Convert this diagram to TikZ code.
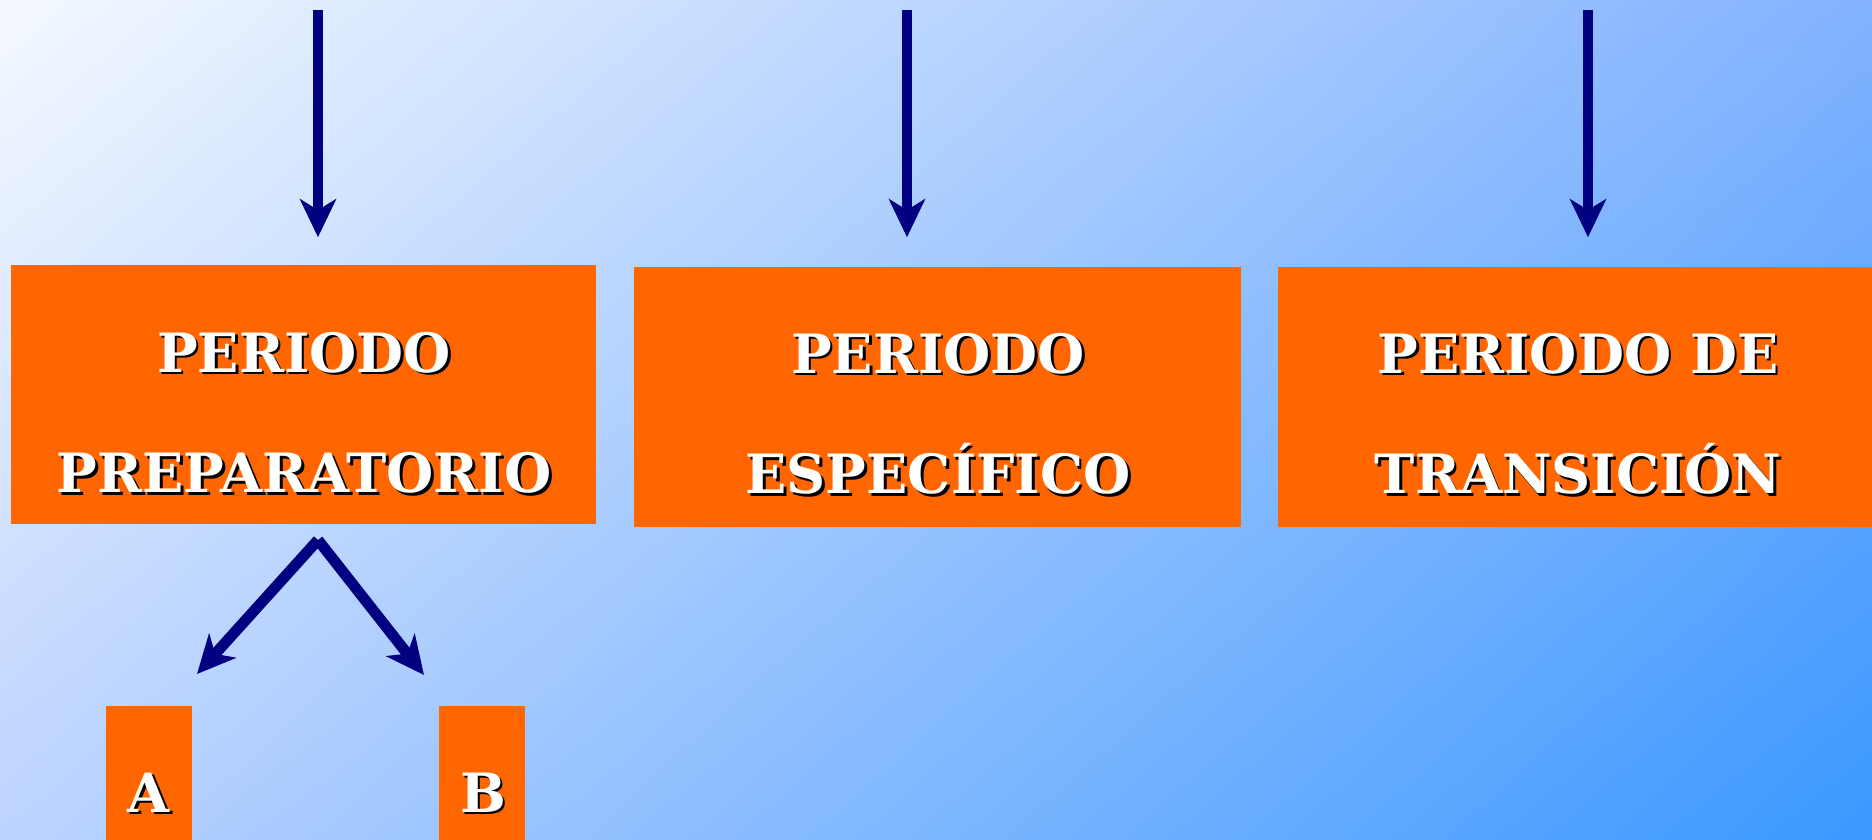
\documentclass[tikz,border=0pt]{standalone}
\usepackage{fontspec}
\setmainfont{DejaVu Serif}
\usetikzlibrary{arrows.meta,shadings}
\definecolor{naranja}{HTML}{FF6600}
\definecolor{azulosc}{HTML}{000080}
\definecolor{fondoA}{RGB}{245,249,255}
\definecolor{fondoB}{RGB}{130,178,255}
\definecolor{fondoC}{RGB}{188,211,255}
\definecolor{fondoD}{RGB}{58,152,255}
% white text with a black shadow
\newcommand{\rotulo}[3]{%
  \node[rot, text=black, xshift=0.8pt, yshift=-0.8pt] at #2 {#3};
  \node[rot, text=white] (#1) at #2 {#3};}
\begin{document}
\begin{tikzpicture}[x=0.01cm, y=-0.01cm,
  periodo/.style = {fill=naranja, inner sep=0pt},
  rot/.style = {anchor=base, align=center, inner sep=0pt,
    font=\fontsize{15.4}{34.4}\selectfont\bfseries},
  flecha/.style = {draw=azulosc, line width=3.1pt,
    -{Stealth[length=0.38cm, width=0.36cm, inset=0.11cm]}}]
  \useasboundingbox (0,0) rectangle (1872,840);
  \clip (0,0) rectangle (1872,840);
  \shade[upper left=fondoA, upper right=fondoB, lower left=fondoC, lower right=fondoD]
    (0,0) rectangle (1872,840);
  % periods
  \node[periodo, minimum width=5.85cm, minimum height=2.59cm] (p1) at (303.5,394.5) {};
  \node[periodo, minimum width=6.07cm, minimum height=2.60cm] (p2) at (937.5,397) {};
  \node[periodo, minimum width=5.94cm, minimum height=2.60cm] (p3) at (1575,397) {};
  \node[periodo, minimum width=0.86cm, minimum height=1.74cm] (a) at (149,793) {};
  \node[periodo, minimum width=0.86cm, minimum height=1.74cm] (b) at (482,793) {};
  \rotulo{t1}{(304,493)}{PERIODO\\PREPARATORIO}
  \rotulo{t2}{(938,494)}{PERIODO\\ESPECÍFICO}
  \rotulo{t3}{(1578,494)}{PERIODO DE\\TRANSICIÓN}
  \rotulo{ta}{(149,812)}{A}
  \rotulo{tb}{(483,812)}{B}
  % arrows
  \coordinate (s1) at (318,10);
  \coordinate (s2) at (907,10);
  \coordinate (s3) at (1588,10);
  \draw[flecha, shorten >=0.27cm] (s1) -- (s1 |- p1.north);
  \draw[flecha, shorten >=0.29cm] (s2) -- (s2 |- p2.north);
  \draw[flecha, shorten >=0.29cm] (s3) -- (s3 |- p3.north);
  \coordinate (fork) at (318,540);
  \coordinate (ha) at (197,674);
  \coordinate (hb) at (424,675);
  \draw[flecha] (fork) -- (ha);
  \draw[flecha] (fork) -- (hb);
\end{tikzpicture}
\end{document}
